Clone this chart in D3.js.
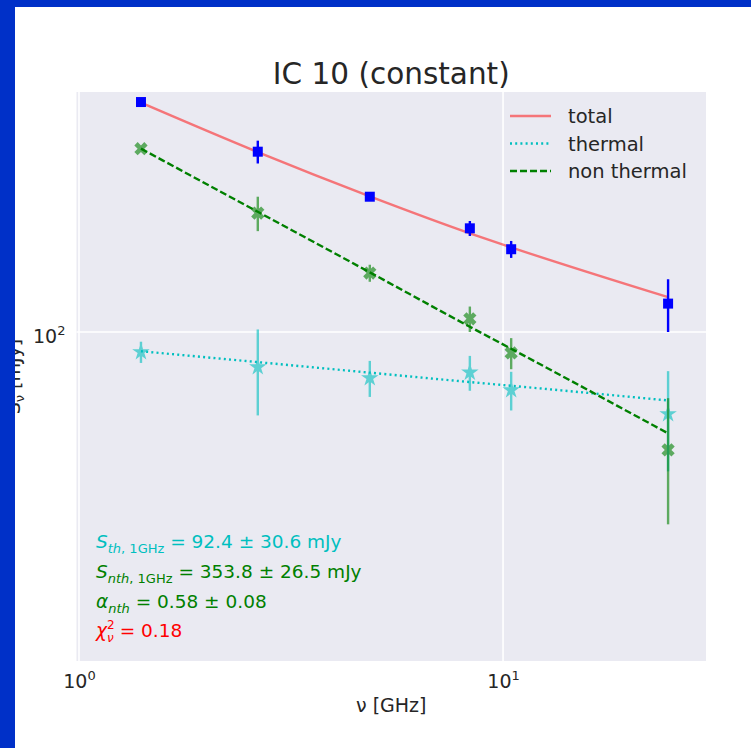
<!DOCTYPE html>
<html>
<head>
<meta charset="utf-8">
<script src="https://cdn.jsdelivr.net/npm/d3@7"></script>
<style>
  body { margin: 0; background: #fff; }
  svg { display: block; font-family: "DejaVu Sans", sans-serif; }
</style>
</head>
<body>
<div id="chart"></div>
<script>

// frequencies (GHz) and measured fluxes (mJy)
var freq = [1.4, 2.64, 4.85, 8.35, 10.45, 24.5];
var totalFlux = [382, 286, 220, 183, 162, 118];
var totalErr = [4, 19, 5, 8, 8, 18];
var nthFlux = [291, 200, 141, 108, 88.5, 50.3];
var nthErr = [5, 20, 7, 8, 8, 17.7];
var thFlux = [89, 81.5, 76.5, 79, 71.3, 62];
var thErr = [5.5, 20, 8, 8, 8, 17.6];

// fitted curves, read at the same frequencies
var modelTotal = [380.5, 285.3, 220.5, 177.8, 163.8, 122.5];
var modelTh = [89.4, 83.9, 78.9, 74.7, 73.1, 67.1];
var modelNth = [291.1, 201.5, 141.6, 103.1, 90.7, 55.4];

var xTicks = [1, 10];
var yTicks = [100];
var legendLabels = ["total", "thermal", "non thermal"];

var width = 751,
    height = 748;

// plot box (named pl* because "top" is taken by window.top)
var plLeft = 76.5, plRight = 706, plTop = 92, plBottom = 661;

var svg = d3.select("#chart")
  .append("svg")
    .attr("width", width)
    .attr("height", height);

var x = d3.scaleLog().domain([0.9865, 30.1]).range([plLeft, plRight]);
var y = d3.scaleLog().domain([14.7, 405]).range([plBottom, plTop]);

// plot background
svg.append("rect")
  .attr("x", plLeft).attr("y", plTop)
  .attr("width", plRight - plLeft).attr("height", plBottom - plTop)
  .attr("fill", "#eaeaf2");

// grid lines
svg.selectAll("xgrid")
  .data(xTicks).enter()
  .append("line")
    .attr("x1", function(d) { return x(d); })
    .attr("x2", function(d) { return x(d); })
    .attr("y1", plTop).attr("y2", plBottom)
    .attr("stroke", "#fff").attr("stroke-width", 1.6);

svg.selectAll("ygrid")
  .data(yTicks).enter()
  .append("line")
    .attr("y1", function(d) { return y(d); })
    .attr("y2", function(d) { return y(d); })
    .attr("x1", plLeft).attr("x2", plRight)
    .attr("stroke", "#fff").attr("stroke-width", 1.6);

// axes (labels only, seaborn style)
function powLabel(sel, exp) {
  sel.text(null);
  sel.append("tspan").text("10");
  sel.append("tspan").attr("dy", -8).attr("font-size", 13).text(exp);
}

var xAxis = svg.append("g")
  .attr("transform", "translate(0," + plBottom + ")")
  .call(d3.axisBottom(x).tickValues(xTicks).tickSize(0).tickPadding(14));
xAxis.select(".domain").remove();
xAxis.selectAll("text")
  .attr("font-size", 19).attr("font-family", "DejaVu Sans").attr("fill", "#262626")
  .each(function(d) { powLabel(d3.select(this), Math.round(Math.log10(d))); });

var yAxis = svg.append("g")
  .attr("transform", "translate(" + plLeft + ",0)")
  .call(d3.axisLeft(y).tickValues(yTicks).tickSize(0).tickPadding(11));
yAxis.select(".domain").remove();
yAxis.selectAll("text")
  .attr("font-size", 19).attr("font-family", "DejaVu Sans").attr("fill", "#262626")
  .attr("dy", "0.55em")
  .each(function(d) { powLabel(d3.select(this), Math.round(Math.log10(d))); });

// axis titles
svg.append("text")
  .attr("x", (plLeft + plRight) / 2).attr("y", 712)
  .attr("text-anchor", "middle")
  .attr("font-size", 19).attr("fill", "#262626")
  .text("ν [GHz]");

var yl = svg.append("text")
  .attr("transform", "translate(20," + (plTop + plBottom) / 2 + ") rotate(-90)")
  .attr("text-anchor", "middle")
  .attr("font-size", 19).attr("fill", "#262626");
yl.append("tspan").text("S");
yl.append("tspan").attr("font-size", 13).attr("dy", 4).text("ν");
yl.append("tspan").attr("dy", -4).text(" [mJy]");

// title
svg.append("text")
  .attr("x", (plLeft + plRight) / 2).attr("y", 84)
  .attr("text-anchor", "middle")
  .attr("font-size", 29.5).attr("fill", "#262626")
  .text("IC 10 (constant)");

// model lines
var line = function(vals) {
  return d3.line()
    .x(function(d, i) { return x(freq[i]); })
    .y(function(d) { return y(d); })
    .curve(d3.curveMonotoneX)(vals);
};

svg.append("path").attr("d", line(modelTotal))
  .attr("fill", "none").attr("stroke", "#ff0000").attr("stroke-opacity", 0.5)
  .attr("stroke-width", 2.4);
svg.append("path").attr("d", line(modelTh))
  .attr("fill", "none").attr("stroke", "#00bfbf")
  .attr("stroke-width", 2.4).attr("stroke-dasharray", "2,3.2");
svg.append("path").attr("d", line(modelNth))
  .attr("fill", "none").attr("stroke", "#008000")
  .attr("stroke-width", 2.4).attr("stroke-dasharray", "7,3");

// error bars + markers
function errorSeries(vals, errs, color, opacity, shape, size, rot) {
  var g = svg.append("g").attr("opacity", opacity);
  g.selectAll("eb")
    .data(vals).enter()
    .append("line")
      .attr("x1", function(d, i) { return x(freq[i]); })
      .attr("x2", function(d, i) { return x(freq[i]); })
      .attr("y1", function(d, i) { return y(d + errs[i]); })
      .attr("y2", function(d, i) { return y(d - errs[i]); })
      .attr("stroke", color).attr("stroke-width", 2.4);
  g.selectAll("mk")
    .data(vals).enter()
    .append("path")
      .attr("d", d3.symbol().type(shape).size(size))
      .attr("transform", function(d, i) {
        return "translate(" + x(freq[i]) + "," + y(d) + ") rotate(" + rot + ")";
      })
      .attr("fill", color);
}

errorSeries(thFlux, thErr, "#00bfbf", 0.6, d3.symbolStar, 95, 0);
errorSeries(nthFlux, nthErr, "#008000", 0.6, d3.symbolCross, 110, 45);
errorSeries(totalFlux, totalErr, "#0000ff", 1, d3.symbolSquare, 100, 0);

// legend
var legendStyles = [
  { color: "#ff0000", op: 0.5, dash: null },
  { color: "#00bfbf", op: 1, dash: "2,3.2" },
  { color: "#008000", op: 1, dash: "7,3" }
];
var lg = svg.selectAll("legend")
  .data(legendLabels).enter()
  .append("g")
    .attr("transform", function(d, i) { return "translate(510," + (116 + i * 27.5) + ")"; });
lg.append("line")
  .attr("x1", 0).attr("x2", 41).attr("y1", 0).attr("y2", 0)
  .attr("stroke", function(d, i) { return legendStyles[i].color; })
  .attr("stroke-opacity", function(d, i) { return legendStyles[i].op; })
  .attr("stroke-dasharray", function(d, i) { return legendStyles[i].dash; })
  .attr("stroke-width", 2.4);
lg.append("text")
  .attr("x", 58).attr("y", 7)
  .attr("font-size", 19.5).attr("fill", "#262626")
  .text(function(d) { return d; });

// fit results
var a1 = svg.append("text").attr("x", 96).attr("y", 548).attr("font-size", 18.5).attr("fill", "#00bfbf");
a1.append("tspan").attr("font-style", "italic").text("S");
a1.append("tspan").attr("font-size", 13).attr("dy", 5).attr("font-style", "italic").text("th");
a1.append("tspan").attr("font-size", 13).text(", 1GHz");
a1.append("tspan").attr("dy", -5).text(" = 92.4 ± 30.6 mJy");

var a2 = svg.append("text").attr("x", 96).attr("y", 578).attr("font-size", 18.5).attr("fill", "#008000");
a2.append("tspan").attr("font-style", "italic").text("S");
a2.append("tspan").attr("font-size", 13).attr("dy", 5).attr("font-style", "italic").text("nth");
a2.append("tspan").attr("font-size", 13).text(", 1GHz");
a2.append("tspan").attr("dy", -5).text(" = 353.8 ± 26.5 mJy");

var a3 = svg.append("text").attr("x", 96).attr("y", 608).attr("font-size", 18.5).attr("fill", "#008000");
a3.append("tspan").attr("font-style", "italic").text("α");
a3.append("tspan").attr("font-size", 13).attr("dy", 5).attr("font-style", "italic").text("nth");
a3.append("tspan").attr("dy", -5).text(" = 0.58 ± 0.08");

var a4 = svg.append("text").attr("x", 96).attr("y", 637).attr("font-size", 18.5).attr("fill", "#ff0000");
a4.append("tspan").attr("font-style", "italic").text("χ");
a4.append("tspan").attr("font-size", 12).attr("dy", -8).text("2");
a4.append("tspan").attr("font-size", 12).attr("font-style", "italic").attr("dx", -7.5).attr("dy", 13).text("ν");
a4.append("tspan").attr("dy", -5).text(" = 0.18");

// slide frame (blue band on top and left)
svg.append("rect").attr("x", 0).attr("y", 0).attr("width", width).attr("height", 7).attr("fill", "#0030c8");
svg.append("rect").attr("x", 0).attr("y", 0).attr("width", 15).attr("height", height).attr("fill", "#0030c8");

</script>
</body>
</html>
